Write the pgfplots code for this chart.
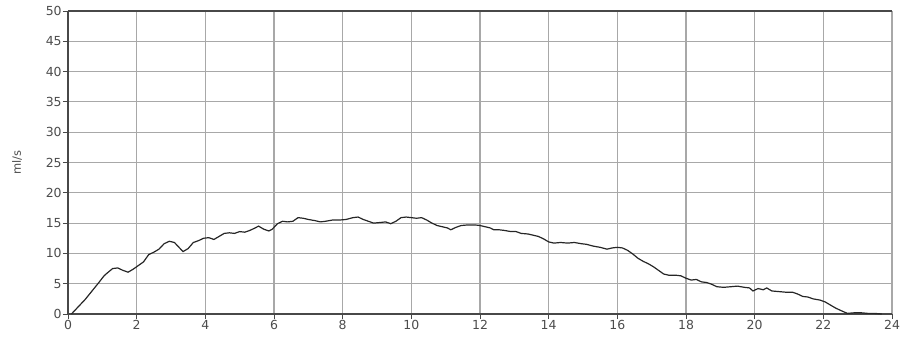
\documentclass[border=0pt]{standalone}
\usepackage{pgfplots}
\pgfplotsset{compat=1.18}
\usepackage{fontspec}
\setmainfont{DejaVu Sans}
\definecolor{gridgray}{HTML}{A8A8A8}
\definecolor{axisgray}{HTML}{484848}

\pgfplotstableread{
x y
0.10 0.0
0.30 1.2
0.50 2.4
0.70 3.8
0.90 5.2
1.05 6.3
1.15 6.8
1.30 7.5
1.45 7.6
1.60 7.2
1.75 6.9
1.90 7.4
2.05 8.0
2.20 8.6
2.35 9.8
2.50 10.2
2.65 10.7
2.80 11.6
2.95 12.0
3.10 11.8
3.20 11.2
3.35 10.3
3.50 10.8
3.65 11.8
3.80 12.1
3.95 12.5
4.10 12.6
4.25 12.3
4.40 12.8
4.55 13.3
4.70 13.4
4.85 13.3
5.00 13.6
5.15 13.5
5.30 13.8
5.45 14.2
5.55 14.5
5.70 14.0
5.85 13.7
5.95 14.0
6.10 14.9
6.25 15.3
6.40 15.2
6.55 15.3
6.70 15.9
6.85 15.8
7.00 15.6
7.20 15.4
7.35 15.2
7.50 15.3
7.70 15.5
7.90 15.5
8.10 15.6
8.30 15.9
8.45 16.0
8.60 15.6
8.75 15.3
8.90 15.0
9.10 15.1
9.25 15.2
9.40 14.9
9.55 15.3
9.70 15.9
9.85 16.0
10.00 15.9
10.15 15.8
10.30 15.9
10.45 15.5
10.60 15.0
10.75 14.6
10.90 14.4
11.05 14.2
11.15 13.9
11.30 14.3
11.45 14.6
11.65 14.7
11.85 14.7
12.00 14.6
12.15 14.4
12.30 14.2
12.40 13.9
12.55 13.9
12.70 13.8
12.90 13.6
13.05 13.6
13.20 13.3
13.40 13.2
13.55 13.0
13.70 12.8
13.85 12.4
14.00 11.9
14.15 11.7
14.35 11.8
14.55 11.7
14.75 11.8
14.95 11.6
15.10 11.5
15.30 11.2
15.50 11.0
15.70 10.7
15.85 10.9
16.00 11.0
16.15 10.9
16.30 10.5
16.45 9.9
16.60 9.2
16.75 8.7
16.90 8.3
17.05 7.8
17.20 7.2
17.35 6.6
17.50 6.4
17.70 6.4
17.85 6.3
18.00 5.9
18.15 5.6
18.30 5.7
18.45 5.3
18.60 5.2
18.75 4.9
18.90 4.5
19.10 4.4
19.30 4.5
19.50 4.6
19.70 4.4
19.85 4.3
19.95 3.8
20.10 4.2
20.25 4.0
20.35 4.3
20.50 3.8
20.70 3.7
20.90 3.6
21.10 3.6
21.25 3.3
21.40 2.9
21.55 2.8
21.70 2.5
21.90 2.3
22.05 2.0
22.20 1.5
22.35 1.0
22.50 0.6
22.70 0.1
22.90 0.2
23.10 0.2
23.30 0.1
23.50 0.1
23.70 0.0
}\flowdata

\begin{document}
\begin{tikzpicture}[x=1bp,y=1bp]
\begin{axis}[
  scale only axis,
  width=824bp, height=303bp,
  xmin=0, xmax=24, ymin=0, ymax=50,
  xtick={0,2,...,24}, ytick={0,5,...,50},
  axis x line=bottom, axis y line=left,
  axis line style={-, axisgray, line width=1.4pt},
  tick align=outside, major tick length=5bp,
  tick style={axisgray, line width=1pt},
  grid=major,
  major grid style={gridgray, line width=1.1pt},
  ticklabel style={font=\fontsize{12.5}{14}\selectfont, text=black!70, inner sep=1.2bp},
  /pgf/number format/assume math mode=true,
  ylabel={ml/s},
  ylabel style={font=\fontsize{11.5}{13}\selectfont, text=black!70,
    at={(axis description cs:0,0.5)}, anchor=center, yshift=51bp},
  clip=false,
]
% darker top border of the plot frame
\draw[axisgray, line width=1.3pt] (axis cs:0,50) -- (axis cs:24,50);
\addplot[black!85, line width=1.2pt, no markers] table[x=x, y=y] {\flowdata};
\end{axis}
\pgfresetboundingbox
\path[use as bounding box] ([xshift=-68bp,yshift=-33bp]current axis.origin) rectangle ++(901bp,347bp);
\end{tikzpicture}
\end{document}
